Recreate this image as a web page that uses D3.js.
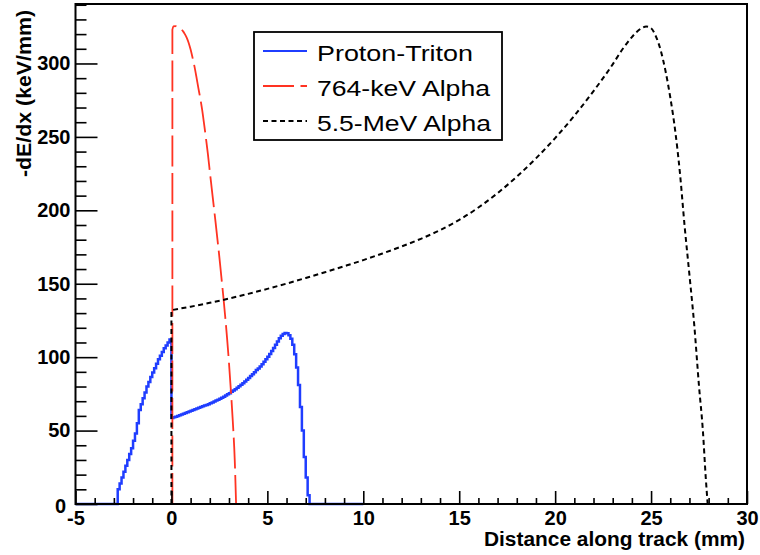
<!DOCTYPE html>
<html>
<head>
<meta charset="utf-8">
<script src="https://cdn.jsdelivr.net/npm/d3@7"></script>
<style>
  body { margin: 0; background: #fff; }
  svg { display: block; }
</style>
</head>
<body>
<svg id="chart" width="760" height="555"></svg>
<script>
// ---- Data -------------------------------------------------------------

// Proton-Triton energy loss: histogram with 0.1 mm bins, first bin edge at -2.8 mm
const ptBinStart = -2.8;
const ptBinWidth = 0.1;
const ptValues = [
  10, 14, 18, 22, 26, 30, 34, 38, 43, 48,
  55, 64, 68, 72, 76, 80, 83, 86.5, 89.5, 92.5,
  95.5, 98.5, 101, 103.5, 106, 108, 110, 112,
  58.5, 59, 59.5, 60, 60.5, 61, 61.5, 62, 62.5, 63,
  63.5, 64, 64.5, 65, 65.5, 66, 66.5, 67, 67.5, 68,
  68.6, 69.2, 69.8, 70.4, 71, 71.7, 72.4, 73.1, 73.9, 74.7,
  75.5, 76.4, 77.3, 78.2, 79.2, 80.2, 81.2, 82.3, 83.4, 84.6,
  85.8, 87.1, 88.4, 89.8, 91.2, 92.3, 93.7, 95.2, 96.8, 98.5,
  100.3, 102.2, 104.2, 106.3, 108.4, 110.6, 112.8, 114.5, 115.8, 116.5,
  116.3, 115, 112.5, 108.5, 102, 93, 81, 66, 50, 32,
  18, 6
];
const ptRange = [-5, 10];

// 764-keV alpha
const alphaLowX = [0.05, 0.1, 0.2, 0.3, 0.4, 0.5, 0.6, 0.7, 0.8, 0.9,
  1.0, 1.1, 1.2, 1.3, 1.4, 1.5, 1.6, 1.7, 1.8, 1.9,
  2.0, 2.1, 2.2, 2.3, 2.4, 2.5, 2.6, 2.7, 2.8, 2.9,
  3.0, 3.1, 3.2, 3.3, 3.37];
const alphaLowY = [323, 325.3, 325.5, 325, 324.3, 323.3, 322, 320, 317.5, 314,
  309.5, 304, 298, 291, 283.5, 276.5, 268.5, 259, 249, 238.5,
  226.5, 215, 203.5, 192, 180, 168, 155, 142, 128, 113,
  96, 77, 56, 30, 0];
const alphaLowRange = [0.05, 5];

// 5.5-MeV alpha
const alphaHighX = [0, 1, 2, 3, 4, 5, 6, 7, 8, 9,
  10, 11, 12, 13, 14, 15, 16, 17, 18, 19,
  20, 21, 22, 23, 23.5, 24, 24.25, 24.5, 24.75, 25,
  25.25, 25.5, 25.75, 26, 26.25, 26.5, 26.75, 27, 27.25, 27.5,
  27.7, 27.85, 27.95];
const alphaHighY = [132, 134.4, 137, 139.9, 143.1, 146.5, 150.1, 153.9, 157.8, 161.9,
  166.1, 170.6, 175.4, 180.6, 186.5, 193.5, 201.9, 211.7, 222.9, 235.4,
  249.2, 264.4, 281.2, 299.4, 309.5, 318, 321.5, 324, 325.2, 324,
  318.5, 309, 295, 277, 255, 226, 189, 156, 122, 80,
  50, 18, 0];
const alphaHighRange = [0, 29];

// Axes
const xDomain = [-5, 30];
const yDomain = [0, 340.5];
const xMajorTicks = [-5, 0, 5, 10, 15, 20, 25, 30];
const yMajorTicks = [0, 50, 100, 150, 200, 250, 300];
const xTitle = "Distance along track (mm)";
const yTitle = "-dE/dx (keV/mm)";

const legendLabels = ["Proton-Triton", "764-keV Alpha", "5.5-MeV Alpha"];

// ---- Drawing ----------------------------------------------------------

const FONT = "'Liberation Sans', Arial, Helvetica, sans-serif";
const plot = { left: 75.5, right: 747, top: 4, bottom: 504 };

const svg = d3.select("#chart");
const x = d3.scaleLinear().domain(xDomain).range([plot.left, plot.right]);
const y = d3.scaleLinear().domain(yDomain).range([plot.bottom, plot.top]);

const colors = { pt: "#1f3dff", low: "#ff3322", high: "#000000" };

// Proton-Triton histogram as a step outline
const ptPts = [[ptRange[0], 0], [ptBinStart, 0]];
ptValues.forEach((v, i) => {
  const e0 = ptBinStart + i * ptBinWidth;
  ptPts.push([e0, v], [e0 + ptBinWidth, v]);
});
const ptEnd = ptBinStart + ptValues.length * ptBinWidth;
ptPts.push([ptEnd, 0], [ptRange[1], 0]);

const lineLinear = d3.line().x(d => x(d[0])).y(d => y(d[1]));

svg.append("path")
  .attr("d", lineLinear(ptPts))
  .attr("fill", "none")
  .attr("stroke", colors.pt)
  .attr("stroke-width", 2.5)
  .attr("stroke-linejoin", "miter");

// Smooth curves: vertical rise at the start, smooth body, then the baseline tail
const lineSmooth = d3.line().x(d => x(d[0])).y(d => y(d[1])).curve(d3.curveMonotoneX);
function curvePath(xs, ys, range) {
  const pts = xs.map((v, i) => [v, ys[i]]);
  const body = lineSmooth(pts);
  return `M${x(xs[0])},${y(0)}L` + body.slice(1) + `L${x(range[1])},${y(0)}`;
}

svg.append("path")
  .attr("d", curvePath(alphaLowX, alphaLowY, alphaLowRange))
  .attr("fill", "none")
  .attr("stroke", colors.low)
  .attr("stroke-width", 1.8)
  .attr("stroke-dasharray", "31 6.5");

svg.append("path")
  .attr("d", curvePath(alphaHighX, alphaHighY, alphaHighRange))
  .attr("fill", "none")
  .attr("stroke", colors.high)
  .attr("stroke-width", 2)
  .attr("stroke-dasharray", "5 3.5");

// Axes drawn over the curves: ticks point inwards
const xMinor = d3.range(xDomain[0], xDomain[1] + 0.001, 1).filter(v => v % 5 !== 0);
const yMinor = d3.range(0, yDomain[1], 10).filter(v => v % 50 !== 0);
const fmt = d => String(d);

const gx = svg.append("g").attr("transform", `translate(0,${plot.bottom})`);
gx.call(d3.axisBottom(x).tickValues(xMajorTicks).tickSize(-13).tickPadding(7).tickFormat(fmt));
gx.append("g").call(d3.axisBottom(x).tickValues(xMinor).tickSize(-6).tickFormat(""));

const gy = svg.append("g").attr("transform", `translate(${plot.left},0)`);
gy.call(d3.axisLeft(y).tickValues(yMajorTicks).tickSize(-22).tickPadding(5).tickFormat(fmt));
gy.append("g").call(d3.axisLeft(y).tickValues(yMinor).tickSize(-11).tickFormat(""));

svg.selectAll(".domain").remove();
svg.selectAll(".tick line").attr("stroke", "#000").attr("stroke-width", 1.6);
svg.selectAll(".tick text")
  .attr("fill", "#000")
  .style("font-family", FONT)
  .style("font-size", "20px")
  .style("font-weight", "bold");

// the zero label sits a little left and low so it clears the "-5" below it
gy.selectAll(".tick text").filter(d => d === 0).attr("x", -9.5).attr("dy", "0.42em");

// Frame
svg.append("rect")
  .attr("x", plot.left).attr("y", plot.top)
  .attr("width", plot.right - plot.left).attr("height", plot.bottom - plot.top)
  .attr("fill", "none").attr("stroke", "#000").attr("stroke-width", 2);

// Axis titles
svg.append("text")
  .attr("x", 745).attr("y", 546)
  .attr("text-anchor", "end")
  .attr("textLength", 261).attr("lengthAdjust", "spacingAndGlyphs")
  .style("font-family", FONT).style("font-size", "20px").style("font-weight", "bold")
  .text(xTitle);

svg.append("text")
  .attr("transform", "translate(31,10) rotate(-90)")
  .attr("text-anchor", "end")
  .attr("textLength", 167).attr("lengthAdjust", "spacingAndGlyphs")
  .style("font-family", FONT).style("font-size", "20px").style("font-weight", "bold")
  .text(yTitle);

// Legend
const legend = svg.append("g");
legend.append("rect")
  .attr("x", 254).attr("y", 32).attr("width", 248).attr("height", 108)
  .attr("fill", "#fff").attr("stroke", "#000").attr("stroke-width", 1.8);

const legendStyles = [
  { color: colors.pt, width: 2, dash: null, textLen: 156 },
  { color: colors.low, width: 1.8, dash: "31 6.5", textLen: 173 },
  { color: colors.high, width: 2, dash: "5 3.5", textLen: 174 }
];
legendLabels.forEach((label, i) => {
  const base = 61 + i * 35;
  const st = legendStyles[i];
  legend.append("line")
    .attr("x1", 263).attr("x2", 307)
    .attr("y1", base - 10).attr("y2", base - 10)
    .attr("stroke", st.color).attr("stroke-width", st.width)
    .attr("stroke-dasharray", st.dash);
  legend.append("text")
    .attr("x", 317).attr("y", base)
    .attr("textLength", st.textLen).attr("lengthAdjust", "spacingAndGlyphs")
    .style("font-family", FONT).style("font-size", "22px")
    .text(label);
});
</script>
</body>
</html>
